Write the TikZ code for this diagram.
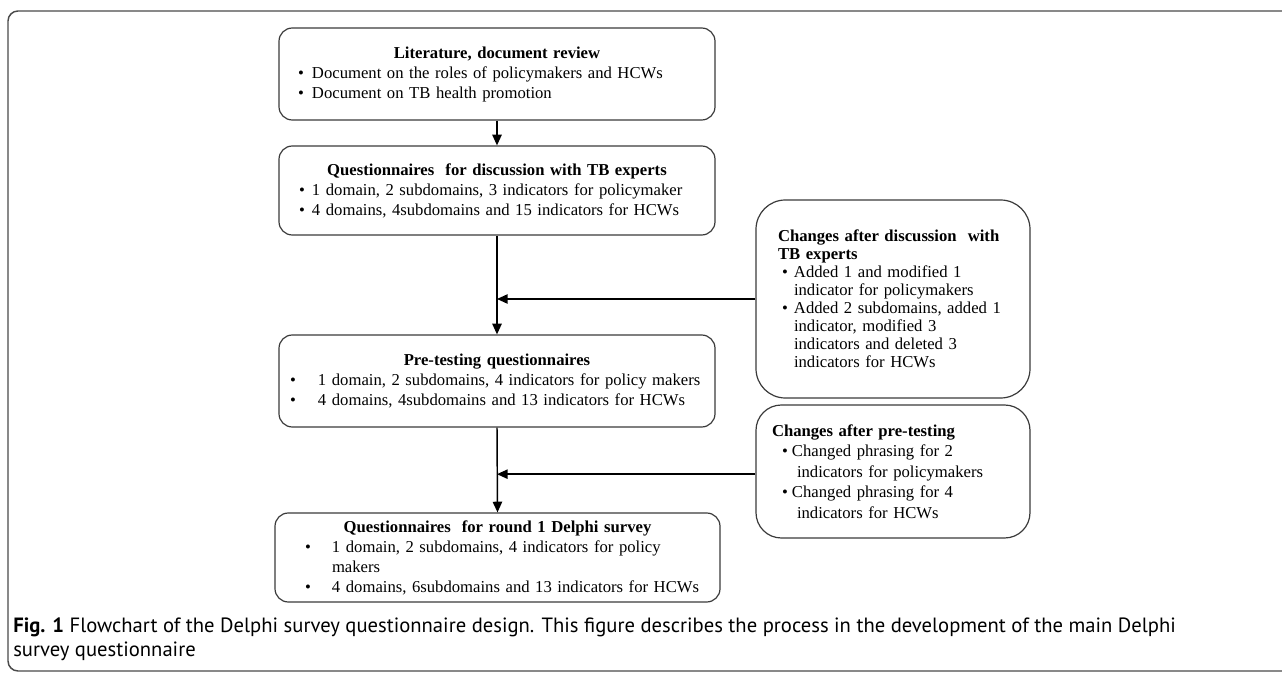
\documentclass[tikz,border=0pt]{standalone}
\usepackage{fontspec}
\setmainfont{Liberation Serif}
\newfontfamily\capfont{PT Sans}
\usetikzlibrary{arrows.meta,calc}
\definecolor{boxline}{HTML}{3A3A3A}
\definecolor{frameline}{HTML}{4A4A4A}
\newcommand\bl[3]{\hspace*{#1}\makebox[#2][l]{\textbullet}#3}
\newlength\capw
\newcommand\capone{\textbf{Fig. 1} Flowchart of the Delphi survey questionnaire design. This figure describes the process in the development of the main Delphi}
\begin{document}
\settowidth\capw{\capfont\fontsize{13}{18}\selectfont\capone}%
\pgfmathsetmacro\capsize{13*872/\capw}%
\begin{tikzpicture}[x=0.75pt,y=-0.75pt,
  box/.style={draw=boxline,line width=0.9pt,rounded corners=10pt,inner sep=0pt,align=left,
    font=\fontsize{12.5}{15}\selectfont},
  sidebox/.style={box,font=\fontsize{12.5}{13.5}\selectfont},
  flow/.style={draw=black,line width=1.1pt,-{Triangle[length=8pt,width=7pt]}}]
\useasboundingbox (0,0) rectangle (1282,673);
\begin{scope}
\clip (0,0) rectangle (1282,673);
\draw[frameline,line width=1.1pt,rounded corners=7.5pt] (8,11) rectangle (1300,671);
\end{scope}

% main column
\node[box,minimum width=327pt,minimum height=69pt,text width=327pt] (b1) at (497,74)
 {\makebox[327pt][c]{\bfseries Literature, document review}\\
  \bl{14.25pt}{10.5pt}{Document on the roles of policymakers and HCWs}\\
  \bl{14.25pt}{10.5pt}{Document on TB health promotion}};

\node[box,minimum width=327pt,minimum height=66.75pt,text width=327pt] (b2) at (497,190.5)
 {\makebox[327pt][c]{\bfseries Questionnaires\ \ for discussion with TB experts}\\
  \bl{15pt}{9.75pt}{1 domain, 2 subdomains, 3 indicators for policymaker}\\
  \bl{15pt}{9.75pt}{4 domains, 4subdomains and 15 indicators for HCWs}};

\node[box,minimum width=327pt,minimum height=69pt,text width=327pt] (b3) at (497,381)
 {\makebox[327pt][c]{\bfseries Pre-testing questionnaires}\\
  \bl{8.25pt}{21pt}{1 domain, 2 subdomains, 4 indicators for policy makers}\\
  \bl{8.25pt}{21pt}{4 domains, 4subdomains and 13 indicators for HCWs}};

\node[box,minimum width=333.75pt,minimum height=66.75pt,text width=333.75pt] (b4) at (497.5,557.5)
 {\makebox[333.75pt][c]{\bfseries Questionnaires\ \ for round 1 Delphi survey}\\
  \bl{22.5pt}{20.25pt}{1 domain, 2 subdomains, 4 indicators for policy}\\
  \hspace*{42.75pt}makers\\
  \bl{22.5pt}{20.25pt}{4 domains, 6subdomains and 13 indicators for HCWs}};

% side boxes
\node[sidebox,rounded corners=22pt,minimum width=205.5pt,minimum height=148.5pt,text width=205.5pt] (r1) at (893,299)
 {\hspace*{16.5pt}\textbf{Changes after discussion\ \ with}\\
  \hspace*{16.5pt}\textbf{TB experts}\\
  \bl{19.5pt}{9pt}{Added 1 and modified 1}\\
  \hspace*{28.5pt}indicator for policymakers\\
  \bl{19.5pt}{9pt}{Added 2 subdomains, added 1}\\
  \hspace*{28.5pt}indicator, modified 3\\
  \hspace*{28.5pt}indicators and deleted 3\\
  \hspace*{28.5pt}indicators for HCWs};

\node[sidebox,rounded corners=19pt,minimum width=205.5pt,minimum height=99.75pt,text width=205.5pt,
  font=\fontsize{12.5}{15.3}\selectfont] (r2) at (893,471.5)
 {\hspace*{12pt}\textbf{Changes after pre-testing}\\
  \bl{19.5pt}{7.5pt}{Changed phrasing for 2}\\
  \hspace*{30.75pt}indicators for policymakers\\
  \bl{19.5pt}{7.5pt}{Changed phrasing for 4}\\
  \hspace*{30.75pt}indicators for HCWs};

% connectors
\coordinate (j1) at (b2.south |- r1.west);
\coordinate (r2w) at ([yshift=-2pt]r2.west);
\coordinate (j2) at (b3.south |- r2w);
\draw[flow] (b1.south) -- (b2.north);
\draw[flow] (b2.south) -- (b3.north);
\draw[flow] (b3.south) -- (b4.north);
\draw[flow] (r1.west) -- (j1);
\draw[flow] (r2w) -- (j2);

% caption (anchor on the baseline of its last line)
\node[anchor=base west,inner sep=0pt,align=left,font=\capfont\fontsize{\capsize}{18}\selectfont] (cap) at (13,656)
 {\capone\\
  survey questionnaire};
\end{tikzpicture}
\end{document}
